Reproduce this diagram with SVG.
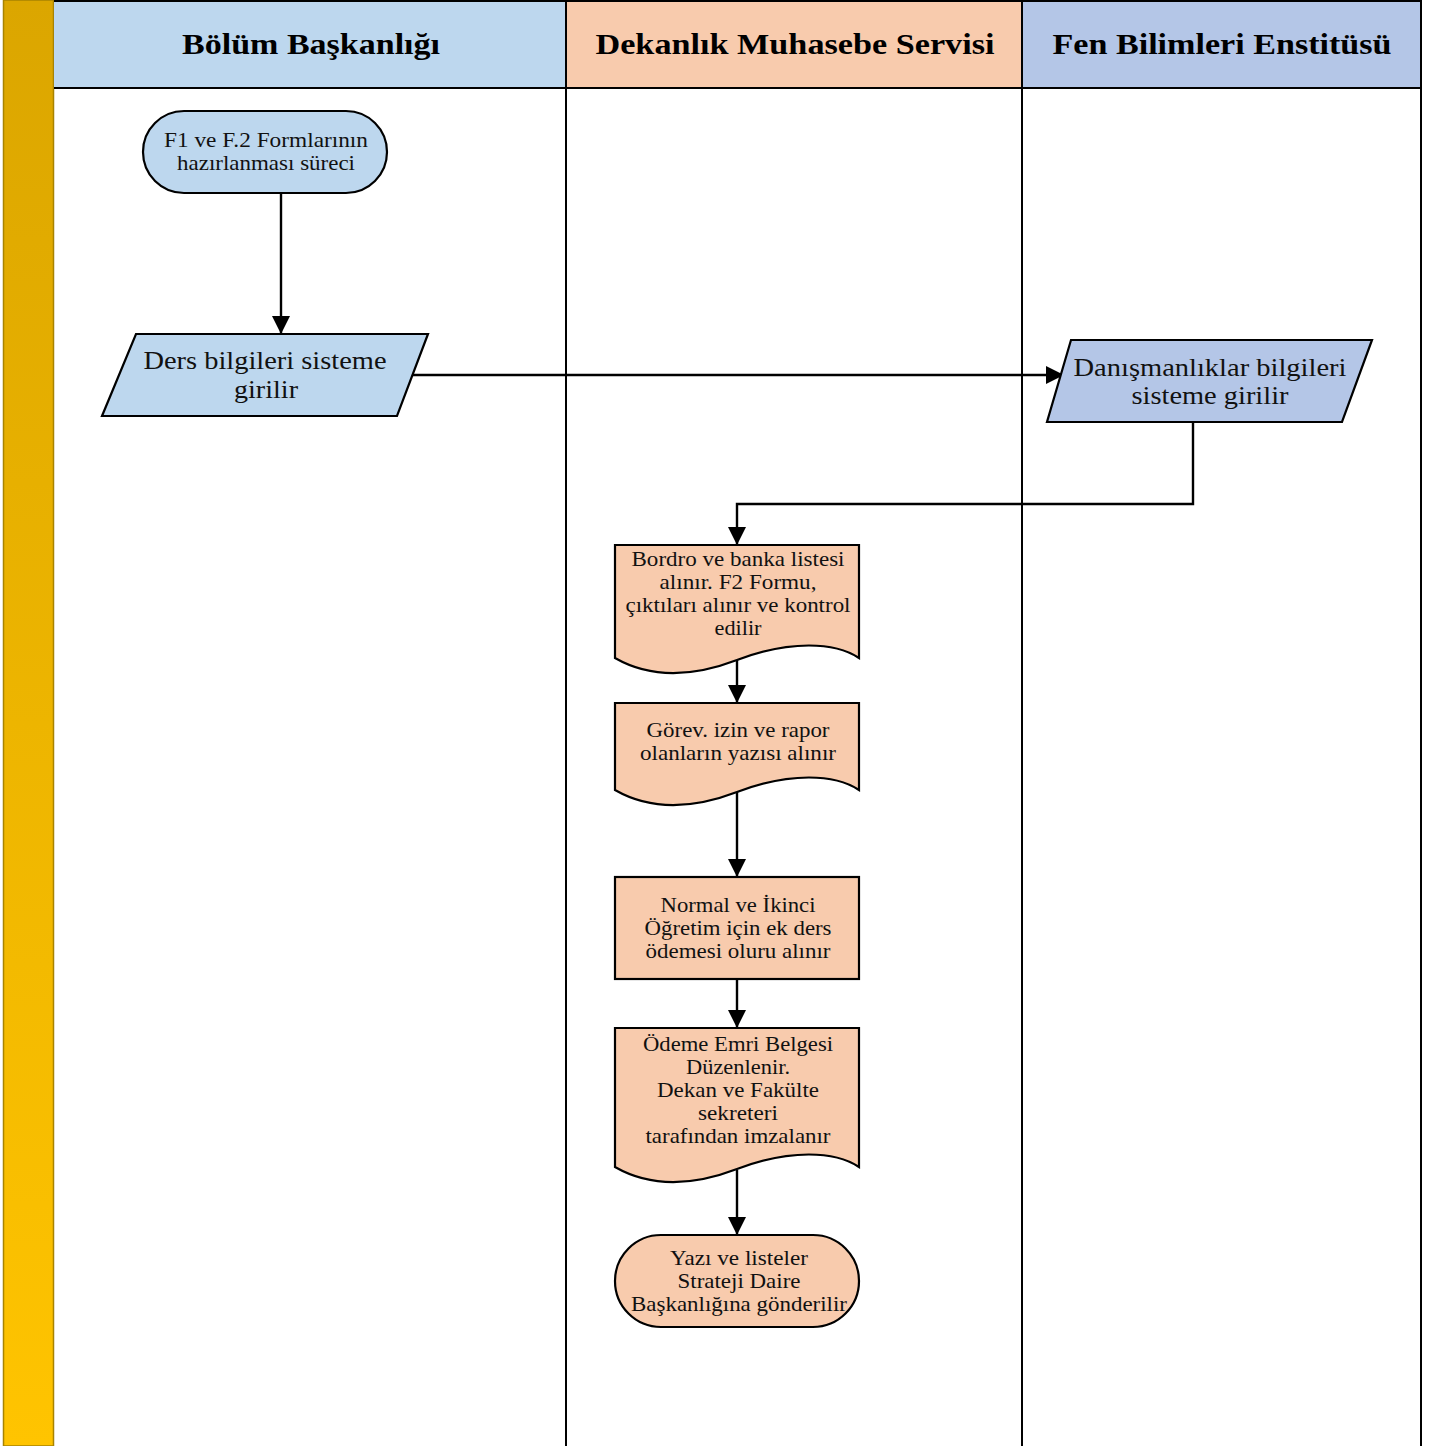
<svg xmlns="http://www.w3.org/2000/svg" width="1440" height="1446" viewBox="0 0 1440 1446">
  <defs>
    <linearGradient id="barFill" x1="0" y1="0" x2="0" y2="1">
      <stop offset="0" stop-color="#DBA600"/>
      <stop offset="1" stop-color="#FFC400"/>
    </linearGradient>
    <marker id="arrow" viewBox="0 0 18 18" refX="18" refY="9" markerWidth="18" markerHeight="18" markerUnits="userSpaceOnUse" orient="auto">
      <path d="M0,0 L18,9 L0,18 Z" fill="#000"/>
    </marker>
    <style>
      .lane { stroke: #000; stroke-width: 2; }
      .hdr { font-family: "Liberation Serif", "Times New Roman", serif; font-weight: bold; font-size: 29px; fill: #000; text-anchor: middle; }
      .t { font-family: "Liberation Serif", "Times New Roman", serif; font-size: 21px; fill: #111; text-anchor: middle; }
      .tl { font-family: "Liberation Serif", "Times New Roman", serif; font-size: 25px; fill: #111; text-anchor: middle; }
      .shape { stroke: #000; stroke-width: 2.2; }
      .blue { fill: #BDD7EE; }
      .steel { fill: #B4C6E7; }
      .peach { fill: #F8CBAD; }
      .conn { fill: none; stroke: #000; stroke-width: 2.4; }
    </style>
  </defs>

  <rect x="0" y="0" width="1440" height="1446" fill="#fff"/>

  <!-- side bar -->
  <rect x="3.5" y="0" width="50" height="1446" fill="url(#barFill)" stroke="#A88300" stroke-width="1.5"/>

  <!-- lane headers -->
  <g id="lanes">
    <rect x="54" y="1" width="512" height="87" fill="#BDD7EE"/>
    <rect x="566" y="1" width="456" height="87" fill="#F8CBAD"/>
    <rect x="1022" y="1" width="399" height="87" fill="#B4C6E7"/>
    <line class="lane" x1="54" y1="1" x2="1421" y2="1" stroke="#555"/>
    <line class="lane" x1="54" y1="88" x2="1421" y2="88" stroke-width="2.5"/>
    <line class="lane" x1="566" y1="0" x2="566" y2="1446"/>
    <line class="lane" x1="1022" y1="0" x2="1022" y2="1446"/>
    <line class="lane" x1="1421" y1="0" x2="1421" y2="1446"/>
    <text class="hdr" x="311" y="54" textLength="258" lengthAdjust="spacingAndGlyphs">Bölüm Başkanlığı</text>
    <text class="hdr" x="795" y="54" textLength="399" lengthAdjust="spacingAndGlyphs">Dekanlık Muhasebe Servisi</text>
    <text class="hdr" x="1222" y="54" textLength="339" lengthAdjust="spacingAndGlyphs">Fen Bilimleri Enstitüsü</text>
  </g>

  <!-- connectors -->
  <g id="connectors">
    <path class="conn" d="M281,193 V334" marker-end="url(#arrow)"/>
    <path class="conn" d="M412,375 H1064" marker-end="url(#arrow)"/>
    <path class="conn" d="M1193,422 V504 H737 V545" marker-end="url(#arrow)"/>
    <path class="conn" d="M737,660 V703" marker-end="url(#arrow)"/>
    <path class="conn" d="M737,792 V877" marker-end="url(#arrow)"/>
    <path class="conn" d="M737,979 V1028" marker-end="url(#arrow)"/>
    <path class="conn" d="M737,1170 V1235" marker-end="url(#arrow)"/>
  </g>

  <!-- start terminal -->
  <g id="n-start">
    <rect class="shape blue" x="143" y="111" width="244" height="82" rx="41" ry="41"/>
    <text class="t" x="266" y="147" textLength="204" lengthAdjust="spacingAndGlyphs">F1 ve F.2 Formlarının</text>
    <text class="t" x="266" y="170" textLength="178" lengthAdjust="spacingAndGlyphs">hazırlanması süreci</text>
  </g>

  <!-- course input -->
  <g id="n-ders">
    <polygon class="shape blue" points="136,334 428,334 397,416 102,416"/>
    <text class="tl" x="265" y="369" textLength="243" lengthAdjust="spacingAndGlyphs">Ders bilgileri sisteme</text>
    <text class="tl" x="266" y="398" textLength="64" lengthAdjust="spacingAndGlyphs">girilir</text>
  </g>

  <!-- advising input -->
  <g id="n-danisman">
    <polygon class="shape steel" points="1071,340 1372,340 1342,422 1047,422"/>
    <text class="tl" x="1210" y="376" textLength="273" lengthAdjust="spacingAndGlyphs">Danışmanlıklar bilgileri</text>
    <text class="tl" x="1210" y="404" textLength="157" lengthAdjust="spacingAndGlyphs">sisteme girilir</text>
  </g>

  <!-- payroll document -->
  <g id="n-bordro">
    <path class="shape peach" d="M615,545 H859 V658 C835,642 790,640 737,660 C690,678 650,678 615,658 Z"/>
    <text class="t" x="738" y="566" textLength="213" lengthAdjust="spacingAndGlyphs">Bordro ve banka listesi</text>
    <text class="t" x="738" y="589" textLength="157" lengthAdjust="spacingAndGlyphs">alınır. F2 Formu,</text>
    <text class="t" x="738" y="612" textLength="225" lengthAdjust="spacingAndGlyphs">çıktıları alınır ve kontrol</text>
    <text class="t" x="738" y="635" textLength="47" lengthAdjust="spacingAndGlyphs">edilir</text>
  </g>

  <!-- leave/report document -->
  <g id="n-gorev">
    <path class="shape peach" d="M615,703 H859 V790 C835,774 790,772 737,792 C690,810 650,810 615,790 Z"/>
    <text class="t" x="738" y="737" textLength="183" lengthAdjust="spacingAndGlyphs">Görev. izin ve rapor</text>
    <text class="t" x="738" y="760" textLength="196" lengthAdjust="spacingAndGlyphs">olanların yazısı alınır</text>
  </g>

  <!-- approval process -->
  <g id="n-olur">
    <rect class="shape peach" x="615" y="877" width="244" height="102"/>
    <text class="t" x="738" y="912" textLength="155" lengthAdjust="spacingAndGlyphs">Normal ve İkinci</text>
    <text class="t" x="738" y="935" textLength="187" lengthAdjust="spacingAndGlyphs">Öğretim için ek ders</text>
    <text class="t" x="738" y="958" textLength="185" lengthAdjust="spacingAndGlyphs">ödemesi oluru alınır</text>
  </g>

  <!-- payment order document -->
  <g id="n-odeme">
    <path class="shape peach" d="M615,1028 H859 V1167 C835,1151 790,1149 737,1169 C690,1187 650,1187 615,1167 Z"/>
    <text class="t" x="738" y="1051" textLength="190" lengthAdjust="spacingAndGlyphs">Ödeme Emri Belgesi</text>
    <text class="t" x="738" y="1074" textLength="104" lengthAdjust="spacingAndGlyphs">Düzenlenir.</text>
    <text class="t" x="738" y="1097" textLength="162" lengthAdjust="spacingAndGlyphs">Dekan ve Fakülte</text>
    <text class="t" x="738" y="1120" textLength="80" lengthAdjust="spacingAndGlyphs">sekreteri</text>
    <text class="t" x="738" y="1143" textLength="185" lengthAdjust="spacingAndGlyphs">tarafından imzalanır</text>
  </g>

  <!-- end terminal -->
  <g id="n-end">
    <rect class="shape peach" x="615" y="1235" width="244" height="92" rx="46" ry="46"/>
    <text class="t" x="739" y="1265" textLength="138" lengthAdjust="spacingAndGlyphs">Yazı ve listeler</text>
    <text class="t" x="739" y="1288" textLength="123" lengthAdjust="spacingAndGlyphs">Strateji Daire</text>
    <text class="t" x="739" y="1311" textLength="216" lengthAdjust="spacingAndGlyphs">Başkanlığına gönderilir</text>
  </g>
</svg>
